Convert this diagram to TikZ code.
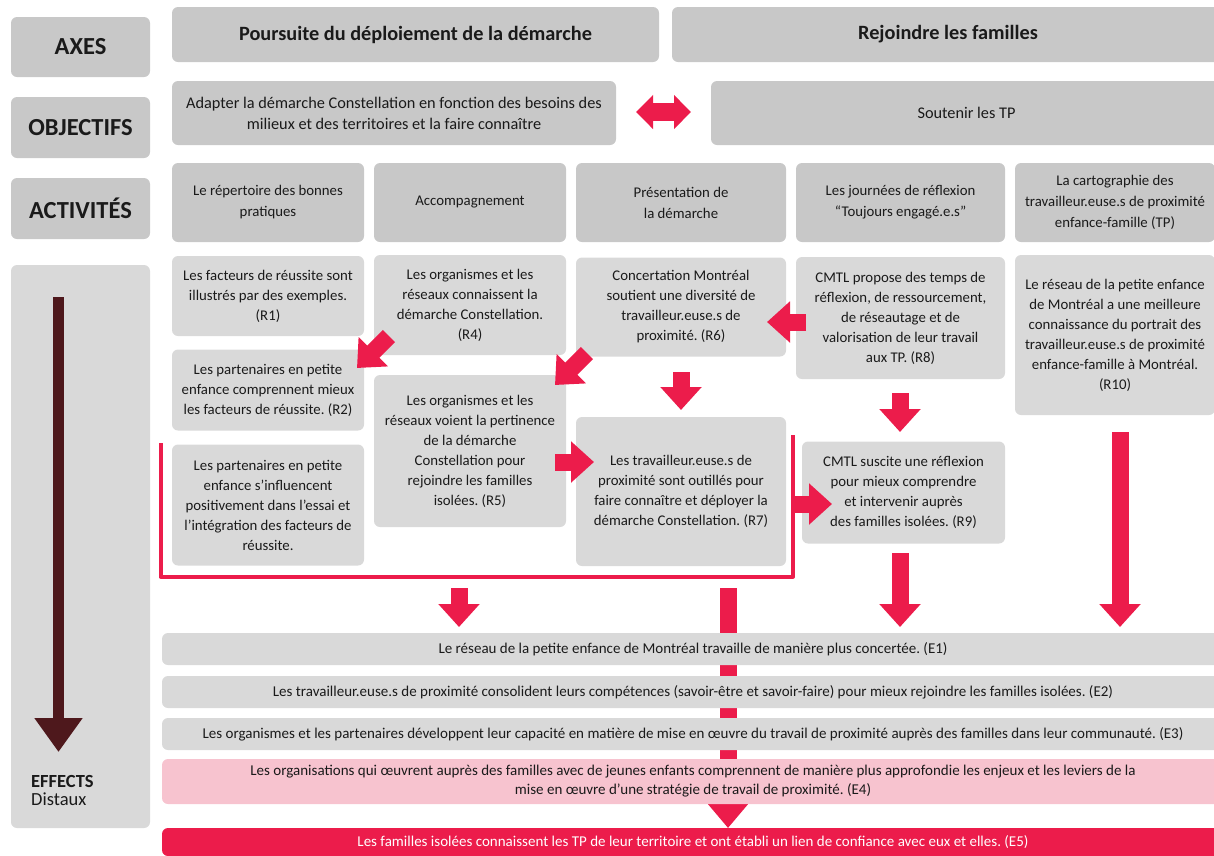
\documentclass[tikz,border=0pt]{standalone}
\usepackage{fontspec}
\setmainfont{Carlito}
\usetikzlibrary{arrows.meta}
\definecolor{hdr}{HTML}{C8C8C8}
\definecolor{res}{HTML}{D9D9D9}
\definecolor{crim}{HTML}{EC1C4B}
\definecolor{pinkb}{HTML}{F7C3CF}
\definecolor{maroonc}{HTML}{4E181C}
\definecolor{txt}{HTML}{1A1A1A}
\frenchspacing
\begin{document}
\begin{tikzpicture}[x=1pt,y=-1pt,
  box/.style={fill=res, rounded corners=6pt, inner sep=0pt, align=center, text=txt, font=\fontsize{14.8}{20}\selectfont},
  hbox/.style={box, fill=hdr},
  sz/.style 2 args={minimum width=#1pt, minimum height=#2pt},
  lbl/.style={hbox, font=\fontsize{24.5}{28}\bfseries\selectfont},
  axe/.style={hbox, font=\fontsize{20.3}{24}\bfseries\selectfont},
  obj/.style={hbox, font=\fontsize{16.3}{21}\selectfont},
  act/.style={hbox, font=\fontsize{14.8}{21}\selectfont},
  eff/.style={box, font=\fontsize{15}{19}\selectfont},
  barrow/.style={draw=crim, line width=17pt, -{Triangle[length=23pt,width=40pt]}},
]
\useasboundingbox (0,0) rectangle (1214,855);

% left column
\node[lbl, sz={139}{60}] (axL) at (80.5,47) {AXES};
\node[lbl, sz={139}{61}] (objL) at (80.5,127.5) {OBJECTIFS};
\node[lbl, sz={139}{61}] (actL) at (80.5,208.5) {ACTIVITÉS};
\node[box, sz={139}{563}] (effL) at (80.5,546.5) {};
\coordinate (dA) at (58.5,297);
\coordinate (dB) at (58.5,752);
\draw[maroonc, line width=11pt, -{Triangle[length=34pt,width=46pt]}] (dA) -- (dB);
\node[anchor=north west, inner sep=0pt, align=left, text=txt, font=\fontsize{18.5}{18}\selectfont] (effT) at (31,775) {\textbf{EFFECTS}\\Distaux};

% axes
\node[axe, sz={487}{55}] (ax1) at (415.5,34.5) {Poursuite du déploiement de la démarche};
\node[axe, sz={552}{55}] (ax2) at (948,34.5) {Rejoindre les familles};

% objectives
\node[obj, sz={444}{64}] (ob1) at (394,113) {Adapter la démarche Constellation en fonction des besoins des\\milieux et des territoires et la faire connaître};
\node[obj, sz={511}{64}] (ob2) at (966.5,113) {Soutenir les TP};
\coordinate (oA) at (636,112);
\coordinate (oB) at (691,112);
\draw[draw=crim, line width=18pt, {Triangle[length=17pt,width=33pt]}-{Triangle[length=17pt,width=33pt]}] (oA) -- (oB);

% activities
\node[act, sz={192}{79}] (a1) at (268,202.5) {Le répertoire des bonnes\\pratiques};
\node[act, sz={192}{79}] (a2) at (470,202.5) {Accompagnement};
\node[act, sz={210}{79}] (a3) at (681,202.5) {Présentation de\\la démarche};
\node[act, sz={209}{79}] (a4) at (900.5,202.5) {Les journées de réflexion\\“Toujours engagé.e.s”};
\node[act, sz={200}{79}] (a5) at (1115,202.5) {La cartographie des\\travailleur.euse.s de proximité\\enfance-famille (TP)};

% results
\node[box, sz={192}{80}] (r1) at (268,296) {Les facteurs de réussite sont\\illustrés par des exemples.\\(R1)};
\node[box, sz={192}{100}] (r4) at (470,305) {Les organismes et les\\réseaux connaissent la\\démarche Constellation.\\(R4)};
\node[box, sz={210}{99}] (r6) at (681,307) {Concertation Montréal\\soutient une diversité de\\travailleur.euse.s de\\proximité. (R6)};
\node[box, sz={209}{122}] (r8) at (900.5,318) {CMTL propose des temps de\\réflexion, de ressourcement,\\de réseautage et de\\valorisation de leur travail\\aux TP. (R8)};
\node[box, sz={200}{160}] (r10) at (1115,335) {Le réseau de la petite enfance\\de Montréal a une meilleure\\connaissance du portrait des\\travailleur.euse.s de proximité\\enfance-famille à Montréal.\\(R10)};
\node[box, sz={192}{81}] (r2) at (268,390) {Les partenaires en petite\\enfance comprennent mieux\\les facteurs de réussite. (R2)};
\node[box, sz={192}{152}] (r5) at (470,451) {Les organismes et les\\réseaux voient la pertinence\\de la démarche\\Constellation pour\\rejoindre les familles\\isolées. (R5)};
\node[box, sz={192}{121}] (r3) at (268,505) {Les partenaires en petite\\enfance s’influencent\\positivement dans l’essai et\\l’intégration des facteurs de\\réussite.};
\node[box, sz={210}{149}] (r7) at (681,491.5) {Les travailleur.euse.s de\\proximité sont outillés pour\\faire connaître et déployer la\\démarche Constellation. (R7)};
\node[box, sz={203}{102}] (r9) at (903.5,492.5) {CMTL suscite une réflexion\\pour mieux comprendre\\et intervenir auprès\\des familles isolées. (R9)};

% bracket
\coordinate (bL) at (160.5,443);
\coordinate (bBL) at (160.5,576.5);
\coordinate (bBR) at (793,576.5);
\coordinate (bR) at (793,435);
\draw[crim, line width=4pt, line join=round] (bL) -- (bBL) -- (bBR) -- (bR);

% arrows between results
\coordinate (c1a) at (389,336); \coordinate (c1b) at (357,368);
\draw[barrow] (c1a) -- (c1b);
\coordinate (c2a) at (587,353); \coordinate (c2b) at (555,385);
\draw[barrow] (c2a) -- (c2b);
\coordinate (c3a) at (555,462); \coordinate (c3b) at (594,462);
\draw[barrow] (c3a) -- (c3b);
\coordinate (c4a) at (806,322); \coordinate (c4b) at (767,322);
\draw[barrow] (c4a) -- (c4b);
\coordinate (c5a) at (681,372); \coordinate (c5b) at (681,410);
\draw[barrow] (c5a) -- (c5b);
\coordinate (c6a) at (900,393); \coordinate (c6b) at (900,432);
\draw[barrow] (c6a) -- (c6b);
\coordinate (c7a) at (795,504); \coordinate (c7b) at (832,504);
\draw[barrow] (c7a) -- (c7b);
\coordinate (c8a) at (459,588); \coordinate (c8b) at (459,627);
\draw[barrow] (c8a) -- (c8b);
\coordinate (c9a) at (900,553); \coordinate (c9b) at (900,627);
\draw[barrow] (c9a) -- (c9b);
\coordinate (c10a) at (1120,432); \coordinate (c10b) at (1120,627);
\draw[barrow] (c10a) -- (c10b);
\coordinate (c11a) at (728,588); \coordinate (c11b) at (728,828);
\draw[barrow, -{Triangle[length=26pt,width=42pt]}] (c11a) -- (c11b);

% effects
\node[eff, sz={1062}{32}] (e1) at (693,649) {Le réseau de la petite enfance de Montréal travaille de manière plus concertée. (E1)};
\node[eff, sz={1062}{32}] (e2) at (693,692) {Les travailleur.euse.s de proximité consolident leurs compétences (savoir-être et savoir-faire) pour mieux rejoindre les familles isolées. (E2)};
\node[eff, sz={1062}{32}] (e3) at (693,734) {Les organismes et les partenaires développent leur capacité en matière de mise en œuvre du travail de proximité auprès des familles dans leur communauté. (E3)};
\node[eff, fill=pinkb, sz={1062}{45}] (e4) at (693,781.5) {Les organisations qui œuvrent auprès des familles avec de jeunes enfants comprennent de manière plus approfondie les enjeux et les leviers de la\\mise en œuvre d’une stratégie de travail de proximité. (E4)};
\node[eff, fill=crim, text=white, sz={1062}{28}] (e5) at (693,842) {Les familles isolées connaissent les TP de leur territoire et ont établi un lien de confiance avec eux et elles. (E5)};
\end{tikzpicture}
\end{document}
